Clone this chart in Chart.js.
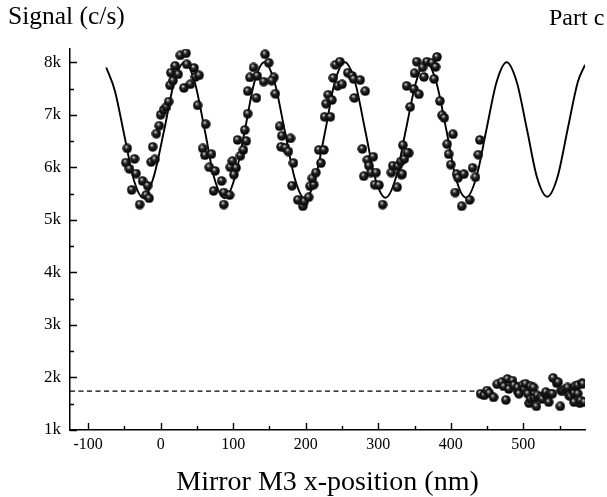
<!DOCTYPE html>
<html>
<head>
<meta charset="utf-8">
<title>Part c</title>
<script src="https://cdn.jsdelivr.net/npm/chart.js@4.4.0/dist/chart.umd.min.js"></script>
<style>
  html, body { margin: 0; padding: 0; background: #fff; }
  #wrap { position: relative; width: 607px; height: 497px; }
  #partLabel {
    position: absolute; left: 549px; top: 5px;
    font: 24px "Liberation Serif", "Times New Roman", serif;
    line-height: 1; color: #000; white-space: nowrap;
  }
</style>
</head>
<body>
<div id="wrap">
  <canvas id="signalChart"></canvas>
  <div id="partLabel">Part c</div>
</div>
<script>
// Axis ticks (major ones get a label)
const xTickValues = [-100, -50, 0, 50, 100, 150, 200, 250, 300, 350, 400, 450, 500, 550];
const yTickValues = [1000, 1500, 2000, 2500, 3000, 3500, 4000, 4500, 5000, 5500, 6000, 6500, 7000, 7500, 8000];

// Fitted interference curve
const curveX = [-75, -63, -50, -37, -24, -10, 5, 19, 33, 47, 61, 74, 88, 102, 116, 129, 143, 157, 171, 185, 199,
  213, 227, 240, 254, 268, 282, 296, 310, 324, 338, 352, 366, 380, 394, 407, 421, 435, 449, 463, 477, 491, 505,
  519, 533, 547, 561, 575, 585];
const curveY = [7900, 7450, 6600, 5760, 5420, 5800, 6720, 7640, 8000, 7620, 6690, 5790, 5410, 5790, 6700, 7610,
  8000, 7620, 6700, 5780, 5400, 5780, 6700, 7620, 8000, 7620, 6700, 5780, 5420, 5790, 6710, 7620, 8000, 7620,
  6700, 5790, 5420, 5800, 6710, 7620, 8000, 7620, 6720, 5800, 5440, 5810, 6720, 7620, 7950];

// Measured signal, mirror scan
const scanX = [-46, -48, -36, -43, -34, -40, -25, -18, -20, -16, -29, -11, -13, -8, -6, -2, 0, 4, 8, 11, 13, 17,
  14, 20, 24, 27, 35, 36, 32, 41, 46, 48, 53, 51, 62, 58, 61, 70, 67, 75, 84, 73, 87, 95, 87, 96, 99, 104, 101,
  110, 114, 106, 118, 116, 120, 120,
  128, 123, 132, 133, 142, 144, 149, 156, 153, 158, 164, 167, 179, 166, 172, 176, 183, 181, 189, 196, 198, 204,
  206, 211, 209, 214, 221, 218, 225, 226, 234, 228, 231, 236, 238, 241, 247, 244, 250, 258, 264, 266, 275, 282,
  267, 278, 285, 293, 287, 290, 297, 280, 295, 301, 306, 318, 320, 327, 326, 332, 331, 336, 342, 334, 344, 339,
  349, 356, 350, 353, 361, 363, 367,
  381, 374, 379, 377, 385, 388, 391, 403, 395, 397, 400, 408, 410, 418, 406, 415, 426, 430, 434, 438, 440, 340, 333];
const scanY = [6360, 6090, 6160, 5970, 5880, 5570, 5740, 5650, 5470, 5410, 5290, 6390, 6100, 6150, 6640, 6790,
  7000, 7090, 7150, 7250, 7560, 7650, 7800, 7930, 7770, 8130, 8170, 7960, 7510, 7580, 7890, 7720, 7750, 7180,
  6820, 6360, 6230, 6250, 6000, 5930, 5740, 5550, 5520, 5470, 5290, 6000, 6120, 5990, 5860, 6220, 6330, 6520,
  6500, 6710, 7450, 7020,
  7900, 7710, 7320, 7740, 7630, 8150, 7990, 7710, 7650, 7400, 6780, 6600, 6550, 6390, 6370, 6300, 6080, 5650,
  5380, 5260, 5350, 5430, 5640, 5670, 5790, 5900, 6080, 6330, 6330, 6960, 6960, 7210, 7380, 7280, 7700, 7950,
  8010, 7550, 7580, 7800, 7740, 7680, 7660, 7450, 7320, 6350, 6140, 6200, 6030, 5900, 5900, 5830, 5670, 5660,
  5290, 5900, 6030, 6020, 5620, 5860, 6110, 6160, 6270, 6420, 7150, 7550, 7490, 7390, 7790, 8010, 7900, 7720,
  8010,
  8100, 7990, 7910, 7680, 7260, 6990, 6940, 6630, 6440, 6250, 6050, 5870, 5800, 5870, 5520, 5260, 5380, 5990,
  5810, 6240, 6520, 6280, 5870];

// Background signal (beam blocked)
const bgX = [441, 446, 450, 453, 459, 464, 470, 473, 476, 478, 480, 485, 487, 492, 492, 494, 499, 501, 503, 506,
  508, 510, 510, 514, 515, 518, 519, 524, 526, 531, 531, 535, 537, 540, 541, 546, 548, 551, 552, 554, 558, 561,
  563, 565, 570, 570, 571, 575, 575, 578, 579, 581, 582, 584];
const bgY = [1690, 1660, 1750, 1700, 1620, 1870, 1910, 1830, 1570, 1970, 1780, 1940, 1850, 1740, 1810, 1690, 1850,
  1780, 1880, 1690, 1510, 1590, 1830, 1810, 1610, 1450, 1660, 1620, 1590, 1680, 1720, 1530, 1690, 1690, 1990,
  1890, 1910, 1450, 1750, 1750, 1780, 1810, 1660, 1640, 1700, 1530, 1830, 1850, 1690, 1510, 1560, 1890, 1880, 1530];

// Mean background level
const bgLevelX = [-125, 437];
const bgLevelY = [1740, 1740];

const FONT = '"Liberation Serif", "Times New Roman", serif';

function toPoints(xs, ys) {
  return xs.map((x, i) => ({ x: x, y: ys[i] }));
}

// shaded black ball used as point marker
function makeBall(d) {
  const c = document.createElement('canvas');
  c.width = d;
  c.height = d;
  const g = c.getContext('2d');
  const r = d / 2;
  const grad = g.createRadialGradient(r * 0.75, r * 0.6, 0, r, r, r);
  grad.addColorStop(0, '#ffffff');
  grad.addColorStop(0.14, '#a8a8a8');
  grad.addColorStop(0.4, '#262626');
  grad.addColorStop(0.85, '#030303');
  grad.addColorStop(1, '#333333');
  g.fillStyle = grad;
  g.beginPath();
  g.arc(r, r, r - 0.2, 0, Math.PI * 2);
  g.fill();
  return c;
}

// ticks drawn inward from the axis lines
const innerTicks = {
  id: 'innerTicks',
  afterDraw(chart) {
    const { ctx, chartArea } = chart;
    const xs = chart.scales.x;
    const ys = chart.scales.y;
    ctx.save();
    ctx.strokeStyle = '#000';
    ctx.lineWidth = 1.4;
    ctx.beginPath();
    xs.ticks.forEach(t => {
      const px = Math.round(xs.getPixelForValue(t.value)) + 0.5;
      const len = t.value % 100 === 0 ? 7 : 4;
      ctx.moveTo(px, chartArea.bottom);
      ctx.lineTo(px, chartArea.bottom - len);
    });
    ys.ticks.forEach(t => {
      const py = Math.round(ys.getPixelForValue(t.value)) + 0.5;
      const len = t.value % 1000 === 0 ? 7 : 4;
      ctx.moveTo(chartArea.left, py);
      ctx.lineTo(chartArea.left + len, py);
    });
    ctx.stroke();
    ctx.restore();
  }
};

function init() {
  const ball = makeBall(10);
  Chart.defaults.color = '#000';
  Chart.defaults.font.family = FONT;

  new Chart(document.getElementById('signalChart'), {
    type: 'scatter',
    data: {
      datasets: [
        {
          label: 'Signal',
          data: toPoints(scanX, scanY),
          pointStyle: ball,
          pointRadius: 5
        },
        {
          label: 'Background',
          data: toPoints(bgX, bgY),
          pointStyle: ball,
          pointRadius: 5
        },
        {
          type: 'line',
          label: 'Fit',
          data: toPoints(curveX, curveY),
          borderColor: '#000',
          borderWidth: 1.9,
          pointRadius: 0,
          fill: false,
          cubicInterpolationMode: 'monotone'
        },
        {
          type: 'line',
          label: 'Background level',
          data: toPoints(bgLevelX, bgLevelY),
          borderColor: '#000',
          borderWidth: 1.3,
          borderDash: [5, 3.5],
          pointRadius: 0,
          fill: false
        }
      ]
    },
    options: {
      responsive: true,
      maintainAspectRatio: false,
      animation: false,
      layout: { padding: { left: 8, right: 22, top: 0, bottom: 0 } },
      plugins: {
        legend: { display: false },
        tooltip: { enabled: false },
        title: {
          display: true,
          text: 'Signal (c/s)',
          align: 'start',
          color: '#000',
          font: { family: FONT, size: 25.5, weight: 'normal', lineHeight: 1.2 },
          padding: { top: 2, bottom: 16.5 }
        }
      },
      scales: {
        x: {
          type: 'linear',
          min: -125,
          max: 585,
          grid: { display: false, drawTicks: false, tickLength: 0 },
          border: { display: true, color: '#000', width: 1.5 },
          afterBuildTicks: scale => { scale.ticks = xTickValues.map(v => ({ value: v })); },
          ticks: {
            autoSkip: false,
            maxRotation: 0,
            padding: 5,
            font: { family: FONT, size: 16 },
            callback: v => (v % 100 === 0 ? String(v) : '')
          },
          title: {
            display: true,
            text: 'Mirror M3 x-position (nm)',
            font: { family: FONT, size: 28, lineHeight: 1 },
            padding: { top: 0, bottom: 0 }
          },
          afterFit: scale => { scale.height = 67; }
        },
        y: {
          type: 'linear',
          min: 1000,
          max: 8250,
          grid: { display: false, drawTicks: false, tickLength: 0 },
          border: { display: true, color: '#000', width: 1.5 },
          afterBuildTicks: scale => { scale.ticks = yTickValues.map(v => ({ value: v })); },
          ticks: {
            autoSkip: false,
            padding: 9,
            font: { family: FONT, size: 17 },
            callback: v => (v % 1000 === 0 ? (v / 1000) + 'k' : '')
          },
          afterFit: scale => { scale.width = 62; }
        }
      }
    },
    plugins: [innerTicks]
  });
}

document.addEventListener('DOMContentLoaded', init);
</script>
</body>
</html>
